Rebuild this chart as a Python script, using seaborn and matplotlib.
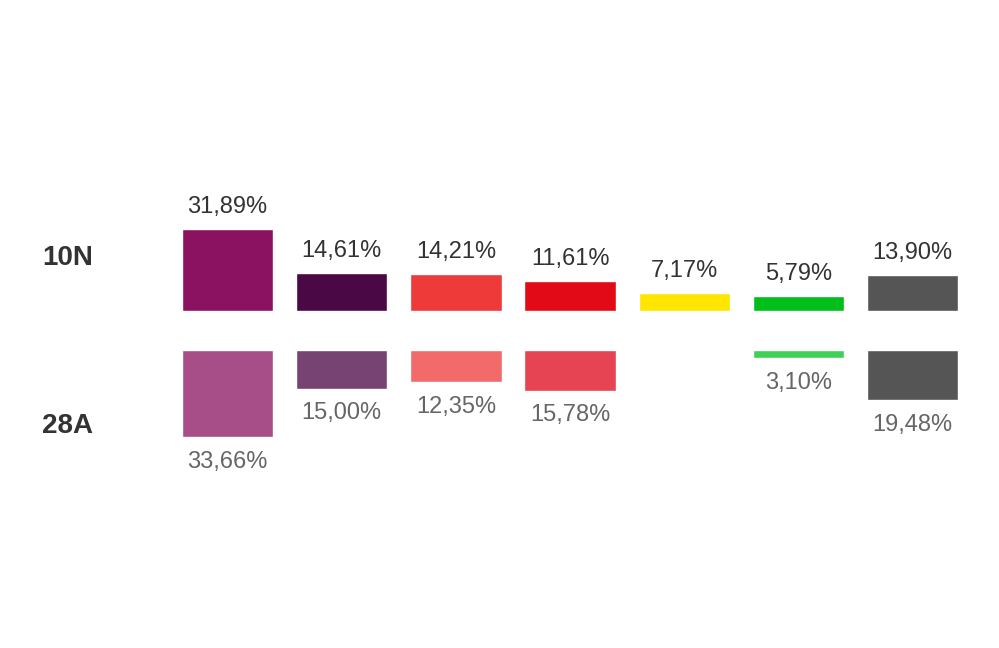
import numpy as np
import pandas as pd
import matplotlib
matplotlib.use("Agg")
import matplotlib.pyplot as plt
import seaborn as sns

parties = ["P1", "P2", "P3", "P4", "P5", "P6", "P7"]
values_10n = [31.89, 14.61, 14.21, 11.61, 7.17, 5.79, 13.90]
values_28a = [33.66, 15.00, 12.35, 15.78, np.nan, 3.10, 19.48]
colors_10n = ["#8A1260", "#4A0845", "#EE3A38", "#E20A17", "#FFE600", "#00BF1B", "#555555"]
colors_28a = ["#A74E88", "#764372", "#F26B6A", "#E64452", "#FFFFFF", "#3FD056", "#555555"]
row_labels = ["10N", "28A"]

sns.set_theme(style="white")
plt.rcParams["font.family"] = ["Liberation Sans", "DejaVu Sans"]

fig = plt.figure(figsize=(9.99, 6.48), dpi=100)
fig.patch.set_facecolor("white")

ax_top = fig.add_axes([0.1706, 0.520, 0.800, 0.159])
ax_bot = fig.add_axes([0.1706, 0.301, 0.800, 0.159])

df_top = pd.DataFrame({"party": parties, "value": values_10n})
df_bot = pd.DataFrame({"party": parties, "value": values_28a})

sns.barplot(data=df_top, x="party", y="value", hue="party", palette=colors_10n,
            order=parties, hue_order=parties, legend=False, width=0.8,
            saturation=1, ax=ax_top)
sns.barplot(data=df_bot, x="party", y="value", hue="party", palette=colors_28a,
            order=parties, hue_order=parties, legend=False, width=0.8,
            saturation=1, ax=ax_bot)

def fmt(v):
    return f"{v:.2f}".replace(".", ",") + "%"

for i, v in enumerate(values_10n):
    ax_top.annotate(fmt(v), (i, v), xytext=(0, 11.5), textcoords="offset points",
                    ha="center", va="baseline", fontsize=17, color="#333333")
for i, v in enumerate(values_28a):
    if np.isnan(v):
        continue
    ax_bot.annotate(fmt(v), (i, v), xytext=(0, -10), textcoords="offset points",
                    ha="center", va="top", fontsize=17, color="#666666")

for ax, inv in [(ax_top, False), (ax_bot, True)]:
    ax.set_xlim(-0.5, 6.5)
    if inv:
        ax.set_ylim(40, 0)
    else:
        ax.set_ylim(0, 40)
    ax.set_axis_off()

fig.text(0.042, 1 - 258 / 648, row_labels[0], fontsize=20, fontweight="bold",
         color="#333333", ha="left", va="center")
fig.text(0.042, 1 - 426 / 648, row_labels[1], fontsize=20, fontweight="bold",
         color="#333333", ha="left", va="center")

fig.savefig("out.png", dpi=100, facecolor="white")
